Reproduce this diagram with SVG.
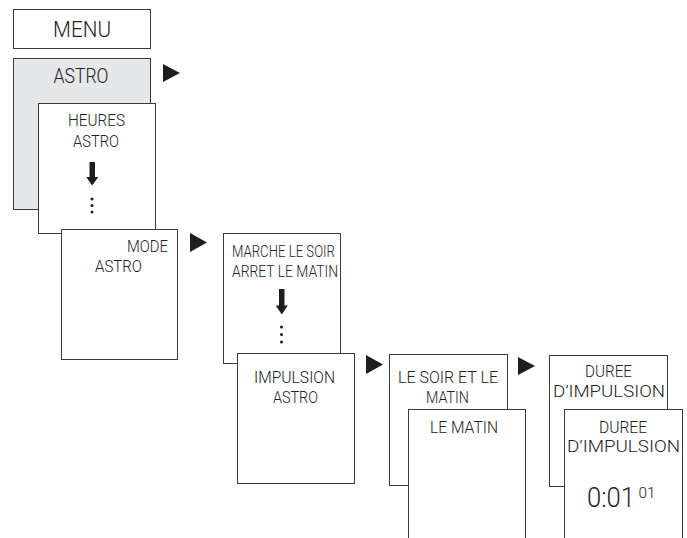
<svg xmlns="http://www.w3.org/2000/svg" width="687" height="538" viewBox="0 0 687 538">
<style>
.box{fill:#ffffff;stroke:#3a3a3a;stroke-width:1}
.grey{fill:#e6e7e9;stroke:#3a3a3a;stroke-width:1}
.t{font-family:Roboto,"DejaVu Sans Condensed",sans-serif;font-weight:300;fill:#222222;font-size:17px}
.m{text-anchor:middle}
.arr{fill:#1e1e1e}
.dot{fill:#1e1e1e}
</style>
<rect width="687" height="538" fill="#ffffff"/>
<g id="menu">
<rect class="box" x="13.5" y="9.5" width="137" height="39"/>
<text class="t m" x="82" y="37" style="font-size:22px" textLength="58" lengthAdjust="spacingAndGlyphs">MENU</text>
</g>
<g id="astro">
<rect class="grey" x="13.5" y="58.5" width="137" height="151"/>
<text class="t m" x="81" y="83" style="font-size:20px" textLength="55" lengthAdjust="spacingAndGlyphs">ASTRO</text>
</g>
<g id="heures-astro">
<rect class="box" x="38.5" y="103.5" width="117" height="130"/>
<text class="t m" x="96.5" y="126" textLength="57" lengthAdjust="spacingAndGlyphs">HEURES</text>
<text class="t m" x="96" y="147" textLength="46" lengthAdjust="spacingAndGlyphs">ASTRO</text>
<rect class="arr" x="89.5" y="162" width="5.5" height="15.5"/>
<polygon class="arr" points="86.2,177 98.3,177 92.2,185.5"/>
<circle class="dot" cx="92" cy="199" r="1.5"/>
<circle class="dot" cx="92" cy="205.5" r="1.5"/>
<circle class="dot" cx="92" cy="212" r="1.5"/>
</g>
<g id="mode-astro">
<rect class="box" x="61.5" y="229.5" width="116" height="130"/>
<text class="t" x="168" y="252" text-anchor="end" textLength="41" lengthAdjust="spacingAndGlyphs">MODE</text>
<text class="t m" x="118.5" y="272" textLength="47" lengthAdjust="spacingAndGlyphs">ASTRO</text>
</g>
<g id="marche-soir">
<rect class="box" x="223.5" y="233.5" width="117" height="130"/>
<text class="t" x="232" y="257" style="font-size:16px" textLength="103" lengthAdjust="spacingAndGlyphs">MARCHE LE SOIR</text>
<text class="t" x="232" y="277" style="font-size:16px" textLength="106" lengthAdjust="spacingAndGlyphs">ARRET LE MATIN</text>
<rect class="arr" x="279" y="289" width="5.5" height="17"/>
<polygon class="arr" points="275.7,305.5 287.8,305.5 281.8,314.5"/>
<circle class="dot" cx="281.5" cy="327" r="1.5"/>
<circle class="dot" cx="281.5" cy="334.5" r="1.5"/>
<circle class="dot" cx="281.5" cy="342" r="1.5"/>
</g>
<g id="impulsion-astro">
<rect class="box" x="237.5" y="353.5" width="117" height="130"/>
<text class="t m" x="294.5" y="383" textLength="81" lengthAdjust="spacingAndGlyphs">IMPULSION</text>
<text class="t m" x="295.5" y="403" textLength="45" lengthAdjust="spacingAndGlyphs">ASTRO</text>
</g>
<g id="soir-matin">
<rect class="box" x="389.5" y="354.5" width="118" height="131"/>
<text class="t m" x="448" y="383" textLength="100" lengthAdjust="spacingAndGlyphs">LE SOIR ET LE</text>
<text class="t m" x="447.5" y="403" textLength="43" lengthAdjust="spacingAndGlyphs">MATIN</text>
</g>
<g id="le-matin">
<rect class="box" x="408.5" y="409.5" width="117" height="140"/>
<text class="t m" x="464" y="433" textLength="68" lengthAdjust="spacingAndGlyphs">LE MATIN</text>
</g>
<g id="duree-1">
<rect class="box" x="549.5" y="355.5" width="118" height="131"/>
<text class="t m" x="608.5" y="377" textLength="47" lengthAdjust="spacingAndGlyphs">DUREE</text>
<text class="t m" x="609" y="397" textLength="112" lengthAdjust="spacingAndGlyphs">D’IMPULSION</text>
</g>
<g id="duree-2">
<rect class="box" x="564.5" y="409.5" width="118" height="140"/>
<text class="t m" x="623" y="433" textLength="48" lengthAdjust="spacingAndGlyphs">DUREE</text>
<text class="t m" x="623.5" y="452" textLength="113" lengthAdjust="spacingAndGlyphs">D’IMPULSION</text>
<text class="t" x="587" y="507" style="font-size:28px" textLength="48" lengthAdjust="spacingAndGlyphs">0:01</text>
<text class="t" x="638.5" y="498" style="font-size:14px" textLength="17" lengthAdjust="spacingAndGlyphs">01</text>
</g>
<g id="connectors">
<polygon class="arr" points="163,64 180,73 163,82"/>
<polygon class="arr" points="190,233 207,242.5 190,252"/>
<polygon class="arr" points="366,355 383,364.5 366,374"/>
<polygon class="arr" points="518,357 535,366 518,375"/>
</g>
</svg>
